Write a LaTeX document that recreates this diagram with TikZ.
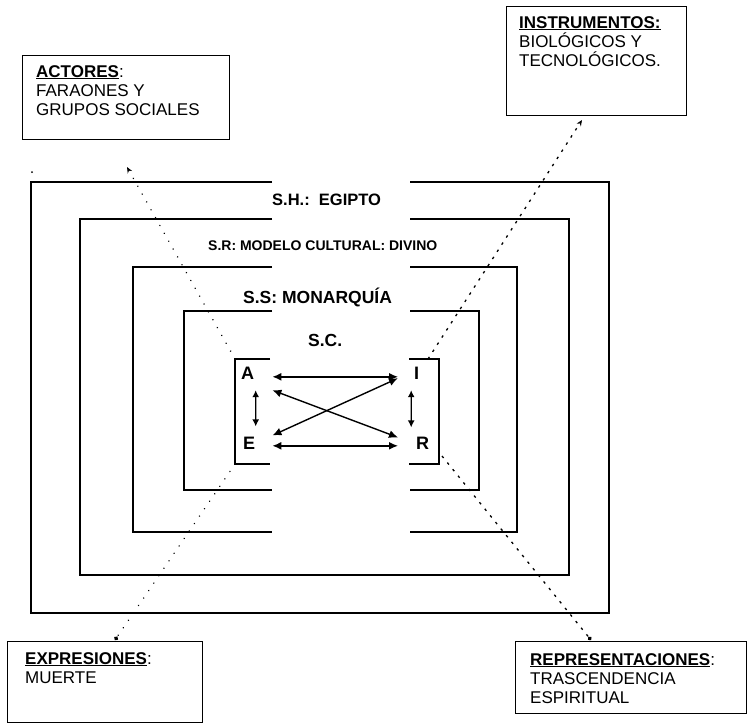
\documentclass[tikz,border=0pt]{standalone}
\usepackage{fontspec}
\setmainfont{Liberation Sans}
\usetikzlibrary{arrows.meta}
\newcommand\ulbf[1]{\setbox0=\hbox{#1}\rlap{\rule[-2.4pt]{\wd0}{1.2pt}}\box0}
\begin{document}
\begin{tikzpicture}[x=1pt,y=-1pt,
  frame/.style={line width=2pt},
  inbox/.style={line width=1.6pt},
  tbox/.style={draw,line width=1.2pt,inner sep=0pt,anchor=north west},
  btxt/.style={anchor=base west,inner sep=0pt,font=\fontsize{17}{19}\selectfont},
  ftxt/.style={anchor=base west,inner sep=0pt},
  letter/.style={anchor=base west,inner sep=0pt,font=\fontsize{18}{20}\selectfont\bfseries},
  twoway/.style={line width=1.4pt,{Latex[length=9pt,width=8pt]}-{Latex[length=9pt,width=8pt]}},
  twowaysm/.style={line width=1.4pt,{Latex[length=7pt,width=7pt]}-{Latex[length=7pt,width=7pt]}},
  dots/.style={line width=1.6pt,dash pattern=on 0.01pt off 9pt,line cap=round},
  dashdots/.style={line width=1.3pt,dash pattern=on 2.5pt off 6pt},
]
\useasboundingbox (0,0) rectangle (748,724);

% nested frames
\draw[frame] (272,182) -- (31,182) -- (31,613) -- (609,613) -- (609,182) -- (410,182);
\draw[frame] (272,219) -- (80,219) -- (80,575) -- (569,575) -- (569,219) -- (410,219);
\draw[frame] (272,267) -- (133,267) -- (133,532) -- (272,532);
\draw[frame] (410,532) -- (517,532) -- (517,267) -- (410,267);
\draw[frame] (272,311) -- (184,311) -- (184,490) -- (272,490);
\draw[frame] (410,490) -- (479,490) -- (479,311) -- (410,311);

% inner boxes
\draw[inbox] (270,359) -- (235,359) -- (235,464) -- (270,464);
\draw[inbox] (409,359) -- (439,359) -- (439,464) -- (409,464);

% frame labels
\node[ftxt,font=\fontsize{16.5}{18}\selectfont\bfseries] (sh) at (272,205) {S.H.:\ \ EGIPTO};
\node[ftxt,font=\fontsize{14}{16}\selectfont\bfseries] (sr) at (208,250) {S.R: MODELO CULTURAL: DIVINO};
\node[ftxt,font=\fontsize{17.5}{19}\selectfont\bfseries] (ss) at (243,303) {S.S: MONARQUÍA};
\node[ftxt,font=\fontsize{17.5}{19}\selectfont\bfseries] (sc) at (308,346) {S.C.};

% letters
\node[letter] (A) at (241,379) {A};
\node[letter] (E) at (243,449) {E};
\node[letter] (I) at (414,379) {I};
\node[letter] (R) at (416,449) {R};

% arrows
\draw[twoway] ([shift={(18,4)}]A.east) -- ([shift={(-16,4)}]I.west);
\draw[twoway] ([shift={(17,3)}]E.east) -- ([shift={(-18,3)}]R.west);
\draw[twoway] ([shift={(18,11)}]A.south east) -- ([shift={(-18,1)}]R.north west);
\draw[twoway] ([shift={(17,-1)}]E.north east) -- ([shift={(-16,-1)}]I.south west);
\draw[twowaysm] ([shift={(8,11)}]A.south) -- ([shift={(6.5,-10)}]E.north);
\draw[twowaysm] ([shift={(-5.5,11)}]I.south) -- ([shift={(-11.5,-9)}]R.north);

% text boxes
\node[tbox,minimum width=207pt,minimum height=84pt] (actbox) at (22,55) {};
\node[tbox,minimum width=180pt,minimum height=109pt] (insbox) at (506,6) {};
\node[tbox,minimum width=195pt,minimum height=81pt] (expbox) at (7,641) {};
\node[tbox,minimum width=231pt,minimum height=72pt] (repbox) at (515,641) {};

\node[btxt] (actA) at (36,77) {\ulbf{\bfseries ACTORES}:};
\node[btxt] (actB) at (36,96) {FARAONES Y};
\node[btxt] (actC) at (36,115) {GRUPOS SOCIALES};
\node[btxt] (insA) at (519,28) {\ulbf{\bfseries INSTRUMENTOS:}};
\node[btxt] (insB) at (519,47) {BIOLÓGICOS Y};
\node[btxt] (insC) at (519,66) {TECNOLÓGICOS.};
\node[btxt] (expA) at (25,664) {\ulbf{\bfseries EXPRESIONES}:};
\node[btxt] (expB) at (25,683) {MUERTE};
\node[btxt] (repA) at (530,665) {\ulbf{\bfseries REPRESENTACIONES}:};
\node[btxt] (repB) at (530,684) {TRASCENDENCIA};
\node[btxt] (repC) at (530,703) {ESPIRITUAL};

% dotted connectors
\coordinate (aeTL) at (235,359);
\coordinate (aeBL) at (235,464);
\coordinate (irTop) at (428,359);
\coordinate (irBR) at (442,456);
\coordinate (dA) at (127,167);
\coordinate (dI) at (582,120);
\coordinate (dE) at (115,640);
\coordinate (dR) at (591,640);
\draw[dots,-{Stealth[length=6pt,width=5pt]}] (aeTL) -- (dA);
\draw[dashdots,-{Stealth[length=6pt,width=5pt]}] (irTop) -- (dI);
\draw[dots,-{Circle[length=4pt]}] (aeBL) -- (dE);
\draw[dashdots,-{Circle[length=4pt]}] (irBR) -- (dR);

% stray mark
\fill (32,172) circle (1pt);
\end{tikzpicture}
\end{document}
